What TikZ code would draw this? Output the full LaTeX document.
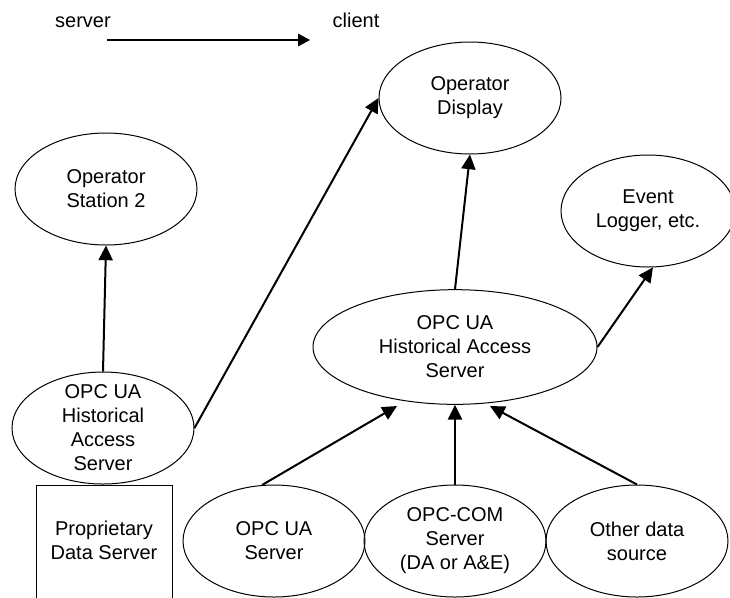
\documentclass[tikz,border=0pt]{standalone}
\usepackage{fontspec}
\setmainfont{Liberation Sans}
\usetikzlibrary{shapes.geometric,arrows.meta,calc}
\begin{document}
\begin{tikzpicture}[x=0.75pt,y=-0.75pt,
  ell/.style={ellipse, draw, line width=0.75pt, inner sep=0pt, minimum width=136.5pt, minimum height=84pt},
  txt/.style={align=center, font=\fontsize{15}{18}\selectfont, inner sep=0pt},
  conn/.style={-{Triangle[length=11pt,width=10.5pt]}, line width=1.5pt},
  legend/.style={-{Triangle[length=9pt,width=9.5pt]}, line width=1pt},
  boxline/.style={line width=0.75pt}
]
\useasboundingbox (0,0) rectangle (730,597);

% legend
\node[txt, anchor=base] (srv) at (83,27) {server};
\node[txt, anchor=base] (cli) at (356,27) {client};
\coordinate (a1) at (107,40);
\coordinate (a2) at (310,40);
\draw[legend] (a1) -- (a2);

% ellipses
\node[ell, label={[txt]center:Operator\\Display}] (od) at (470,98) {};
\node[ell, label={[txt]center:Operator\\Station 2}] (os2) at (106,189) {};
\node[ell, minimum width=130.5pt, label={[txt]center:Event\\Logger, etc.}] (el) at (648,211) {};
\node[ell, label={[txt]center:OPC UA\\Historical\\Access\\Server}] (lhas) at (103,428) {};
\node[ell, minimum width=213pt, minimum height=86pt, label={[txt]center:OPC UA\\Historical Access\\Server}] (mhas) at (455,347) {};
\node[ell, label={[txt]center:OPC UA\\Server}] (ous) at (274,541) {};
\node[ell, label={[txt]center:OPC-COM\\Server\\(DA or A\&E)}] (ocom) at (455,541) {};
\node[ell, label={[txt]center:Other data\\source}] (oth) at (637,541) {};

% proprietary data server (open at bottom)
\node[txt] (pds) at (104,540) {Proprietary\\Data Server};
\draw[boxline] (36,600) |- (172,485) -- (172,600);

% connectors
\draw[conn] (lhas.north) -- (os2.south);
\draw[conn] (lhas.east) -- (od.west);
\draw[conn] (mhas.north) -- (od.south);
\draw[conn] (mhas.east) -- (el.275);
\draw[conn] (ous.102) -- ($(mhas.center)+(-58,59)$);
\draw[conn] (ocom.north) -- (mhas.south);
\draw[conn] (oth.north) -- ($(mhas.center)+(35,59)$);
\end{tikzpicture}
\end{document}
